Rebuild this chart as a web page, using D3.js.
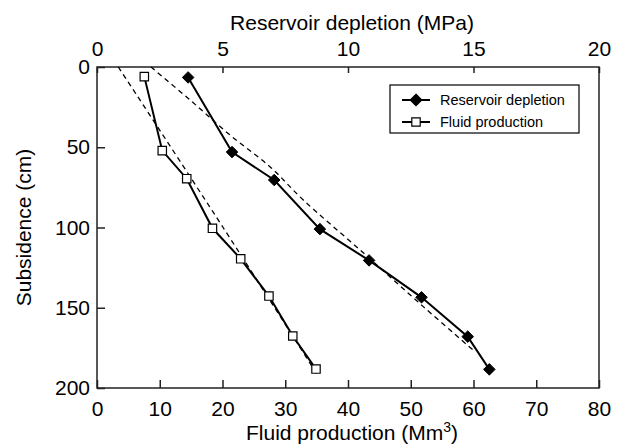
<!DOCTYPE html>
<html>
<head>
<meta charset="utf-8">
<script src="https://cdn.jsdelivr.net/npm/d3@7"></script>
<style>
  body { margin: 0; background: #fff; }
  svg { font-family: "Liberation Sans", Arial, sans-serif; }
  .axis text { font-size: 21px; fill: #000; }
  .axis line, .axis path { stroke: #222; stroke-width: 1.5; }
</style>
</head>
<body>
<svg id="chart"></svg>
<script>
// values
const depletionMPa = [3.63, 5.38, 7.06, 8.88, 10.84, 12.93, 14.77, 15.63];
const depletionSub = [6.5, 53, 70.4, 101, 120.5, 143.5, 168, 188.4];

const fluidProd = [7.54, 10.4, 14.3, 18.4, 22.9, 27.4, 31.2, 34.9];
const fluidSub = [6, 52.1, 69.6, 100.5, 119.5, 142.7, 167.6, 188.2];

// dashed trend curves
const depletionTrendMPa = [2.15, 3.71, 5.30, 6.89, 8.22, 10.48, 13.0, 15.06];
const depletionTrendSub = [0, 20.6, 42.4, 62.1, 82.9, 114, 149.3, 177.4];
const fluidTrendProd = [3.4, 20.1, 35.0];
const fluidTrendSub = [0, 100, 191];

const topTicks = [0, 5, 10, 15, 20];
const bottomTicks = [0, 10, 20, 30, 40, 50, 60, 70, 80];
const leftTicks = [0, 50, 100, 150, 200];

const legendItems = ["Reservoir depletion", "Fluid production"];

class SubsidencePlot {

    constructor( config ) {
        this.config = {
            parent: config.parent,
            width: config.width || 622,
            height: config.height || 446,
            margin: config.margin || {top:67, right:23, bottom:58, left:97}
        }
        this.init();
    }

    init() {
        let self = this;

        self.svg = d3.select( self.config.parent )
            .attr('width', self.config.width)
            .attr('height', self.config.height);

        self.inner_width = self.config.width - self.config.margin.left - self.config.margin.right;
        self.inner_height = self.config.height - self.config.margin.top - self.config.margin.bottom;

        self.chart = self.svg.append('g')
            .attr('transform', `translate(${self.config.margin.left}, ${self.config.margin.top})`);

        self.xbottom = d3.scaleLinear().domain([0, 80]).range([0, self.inner_width]);
        self.xtop = d3.scaleLinear().domain([0, 20]).range([0, self.inner_width]);
        self.yscale = d3.scaleLinear().domain([0, 200]).range([0, self.inner_height]);
    }

    render() {
        let self = this;
        const w = self.inner_width, h = self.inner_height;

        // axes, ticks pointing inward
        self.chart.append('g').attr('class', 'axis')
            .call( d3.axisTop(self.xtop).tickValues(topTicks).tickSize(-6).tickSizeOuter(0).tickPadding(11) );

        self.chart.append('g').attr('class', 'axis')
            .attr('transform', `translate(0, ${h})`)
            .call( d3.axisBottom(self.xbottom).tickValues(bottomTicks).tickSize(-8).tickSizeOuter(0).tickPadding(13) );

        self.chart.append('g').attr('class', 'axis')
            .call( d3.axisLeft(self.yscale).tickValues(leftTicks).tickSize(-8).tickSizeOuter(0).tickPadding(7) );

        self.chart.selectAll('.axis .domain').remove();

        self.chart.append('rect')
            .attr('width', w).attr('height', h)
            .attr('fill', 'none').attr('stroke', '#222').attr('stroke-width', 1.5);

        // trend curves
        const dash = d3.line().curve(d3.curveCatmullRom);
        self.chart.append('path')
            .datum(depletionTrendMPa.map((v, i) => [self.xtop(v), self.yscale(depletionTrendSub[i])]))
            .attr('d', dash)
            .attr('fill', 'none').attr('stroke', '#000').attr('stroke-width', 1.3)
            .attr('stroke-dasharray', '5,4');
        self.chart.append('path')
            .datum(fluidTrendProd.map((v, i) => [self.xbottom(v), self.yscale(fluidTrendSub[i])]))
            .attr('d', dash)
            .attr('fill', 'none').attr('stroke', '#000').attr('stroke-width', 1.3)
            .attr('stroke-dasharray', '5,4');

        // data lines
        const line = d3.line();
        const dep = depletionMPa.map((v, i) => [self.xtop(v), self.yscale(depletionSub[i])]);
        const flu = fluidProd.map((v, i) => [self.xbottom(v), self.yscale(fluidSub[i])]);

        self.chart.append('path').datum(dep).attr('d', line)
            .attr('fill', 'none').attr('stroke', '#000').attr('stroke-width', 2);
        self.chart.append('path').datum(flu).attr('d', line)
            .attr('fill', 'none').attr('stroke', '#000').attr('stroke-width', 2);

        const diamond = d3.symbol().type(d3.symbolDiamond2).size(85);
        const square = d3.symbol().type(d3.symbolSquare2).size(90);

        self.chart.selectAll('path.dia')
            .data(dep).enter().append('path')
            .attr('class', 'dia')
            .attr('d', diamond)
            .attr('transform', d => `translate(${d[0]},${d[1]})`)
            .attr('fill', '#000').attr('stroke', '#000').attr('stroke-width', 1);

        self.chart.selectAll('path.sq')
            .data(flu).enter().append('path')
            .attr('class', 'sq')
            .attr('d', square)
            .attr('transform', d => `translate(${d[0]},${d[1]})`)
            .attr('fill', '#fff').attr('stroke', '#000').attr('stroke-width', 1.2);

        // axis titles
        self.svg.append('text')
            .attr('x', self.config.margin.left + w/2 + 4)
            .attr('y', 30)
            .attr('text-anchor', 'middle')
            .attr('font-size', '21px')
            .text('Reservoir depletion (MPa)');

        const bt = self.svg.append('text')
            .attr('x', self.config.margin.left + w/2 + 4)
            .attr('y', 440)
            .attr('text-anchor', 'middle')
            .attr('font-size', '21px');
        bt.append('tspan').text('Fluid production (Mm');
        bt.append('tspan').attr('font-size', '14px').attr('dy', -8).text('3');
        bt.append('tspan').attr('dy', 8).text(')');

        self.svg.append('text')
            .attr('transform', 'rotate(-90)')
            .attr('x', -(self.config.margin.top + h/2))
            .attr('y', 31)
            .attr('text-anchor', 'middle')
            .attr('font-size', '21px')
            .text('Subsidence (cm)');

        // legend
        const lg = self.svg.append('g').attr('transform', 'translate(390, 85)');
        lg.append('rect')
            .attr('width', 189).attr('height', 48)
            .attr('fill', '#fff').attr('stroke', '#000').attr('stroke-width', 1.2);
        const rows = lg.selectAll('g.row').data(legendItems).enter().append('g')
            .attr('class', 'row')
            .attr('transform', (d, i) => `translate(0, ${15 + i*22})`);
        rows.append('line')
            .attr('x1', 12).attr('x2', 40)
            .attr('stroke', '#000').attr('stroke-width', 2);
        rows.append('path')
            .attr('d', (d, i) => i === 0 ? diamond() : square())
            .attr('transform', 'translate(26, 0)')
            .attr('fill', (d, i) => i === 0 ? '#000' : '#fff')
            .attr('stroke', '#000').attr('stroke-width', 1.2);
        rows.append('text')
            .attr('x', 50).attr('y', 5)
            .attr('font-size', '14.5px')
            .text(d => d);
    }
}

let plot = new SubsidencePlot({ parent: '#chart' });
plot.render();
</script>
</body>
</html>
